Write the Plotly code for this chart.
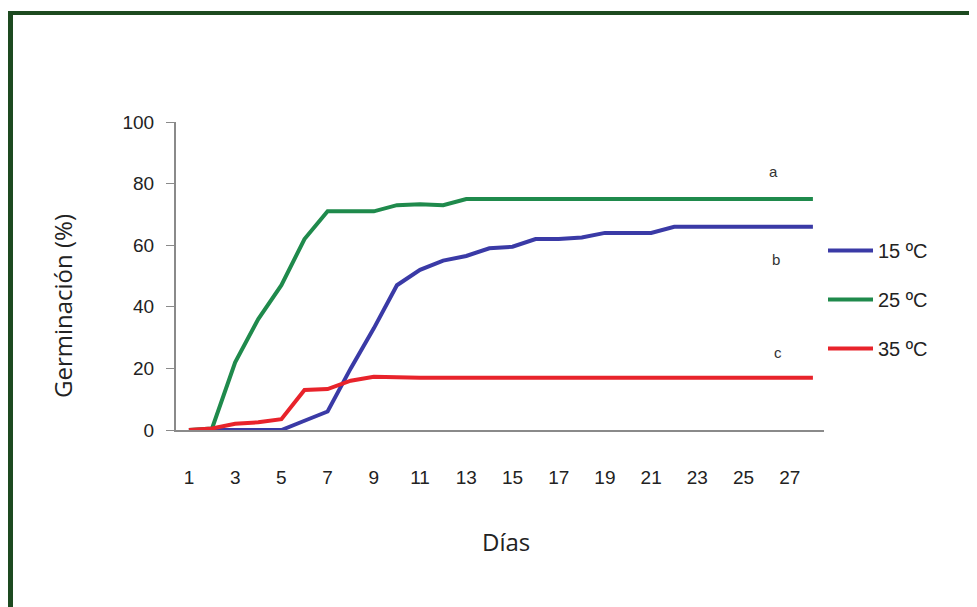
import plotly.graph_objects as go

days = list(range(1, 29))
g15 = [0, 0, 0, 0, 0, 3, 6, 20, 33, 47, 52, 55, 56.5, 59, 59.5, 62, 62, 62.5, 64, 64, 64, 66, 66, 66, 66, 66, 66, 66]
g25 = [0, 0.5, 22, 36, 47, 62, 71, 71, 71, 73, 73.3, 73, 75, 75, 75, 75, 75, 75, 75, 75, 75, 75, 75, 75, 75, 75, 75, 75]
g35 = [0, 0.5, 2, 2.5, 3.5, 13, 13.3, 16, 17.3, 17, 17, 17, 17, 17, 17, 17, 17, 17, 17, 17, 17, 17, 17, 17, 17, 17, 17, 17]
series_names = ["15 ºC", "25 ºC", "35 ºC"]
series_colors = ["#3a3aa6", "#1f8a4c", "#e8232b"]
letters = ["a", "b", "c"]
letter_x = [26.3, 26.4, 26.5]
letter_y = [84, 55.2, 25.3]
xticks = list(range(1, 28, 2))
yticks = [0, 20, 40, 60, 80, 100]

TICKFONT = "Liberation Sans, Arial, sans-serif"
TITLEFONT = "Open Sans, Liberation Sans, sans-serif"

# page has an 8px body margin, so figure coords = screen coords - 8
W, H = 969, 599
L, R, T, B = 168, 153, 114, 177
pw, ph = W - L - R, H - T - B

def px_x(p):
    return (p - L) / pw

def px_y(p):
    return (H - B - p) / ph

fig = go.Figure()
for name, vals, col in zip(series_names, [g15, g25, g35], series_colors):
    fig.add_trace(go.Scatter(x=days, y=vals, mode="lines", name=name,
                             legendgroup=name,
                             line=dict(color=col, width=4)))

for t, xx, yy in zip(letters, letter_x, letter_y):
    fig.add_annotation(x=xx, y=yy, text=t, showarrow=False,
                       font=dict(size=15, color="#333333", family=TICKFONT))

fig.add_annotation(xref="paper", yref="paper", x=px_x(498), y=px_y(533),
                   text="Días", showarrow=False, xanchor="center", yanchor="middle",
                   font=dict(size=24, family=TITLEFONT, color="#222222"))
fig.add_annotation(xref="paper", yref="paper", x=px_x(54), y=px_y(298),
                   text="Germinación (%)", showarrow=False, textangle=-90,
                   xanchor="center", yanchor="middle",
                   font=dict(size=24, family=TITLEFONT, color="#222222"))

border = "#1d4a20"
fig.add_shape(type="line", xref="paper", yref="paper",
              x0=px_x(2.5), x1=px_x(2.5), y0=px_y(3), y1=px_y(640),
              line=dict(color=border, width=5))
fig.add_shape(type="line", xref="paper", yref="paper",
              x0=px_x(0), x1=px_x(1000), y0=px_y(5), y1=px_y(5),
              line=dict(color=border, width=4))

fig.update_layout(
    width=W, height=H,
    margin=dict(l=L, r=R, t=T, b=B),
    paper_bgcolor="white", plot_bgcolor="white",
    font=dict(family=TICKFONT, color="#222222", size=19),
    showlegend=True,
    legend=dict(x=px_x(815), y=px_y(223), xanchor="left", yanchor="top",
                font=dict(size=20, family=TICKFONT, color="#222222"),
                tracegroupgap=20, itemwidth=45, bgcolor="rgba(0,0,0,0)"),
    xaxis=dict(range=[0.44, 28.48], tickmode="array", tickvals=xticks,
               ticktext=[str(v) for v in xticks],
               showgrid=False, zeroline=False, showline=True,
               linecolor="#8a8a8a", linewidth=2, ticks="",
               ticklabelstandoff=29,
               tickfont=dict(size=19, family=TICKFONT, color="#222222")),
    yaxis=dict(range=[0, 100], tickmode="array", tickvals=yticks,
               showgrid=False, zeroline=False, showline=True,
               linecolor="#8a8a8a", linewidth=2, ticks="outside",
               ticklen=8, tickcolor="#8a8a8a", tickwidth=1,
               ticklabelstandoff=8,
               tickfont=dict(size=19, family=TICKFONT, color="#222222")),
)

fig.write_html("out.html")
